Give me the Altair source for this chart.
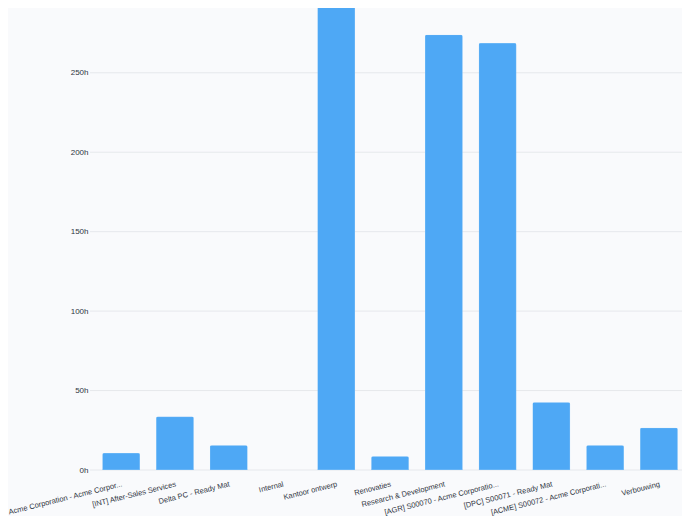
import altair as alt
import pandas as pd

projects = [
    "Acme Corporation - Acme Corpor...",
    "[INT] After-Sales Services",
    "Delta PC - Ready Mat",
    "Internal",
    "Kantoor ontwerp",
    "Renovaties",
    "Research & Development",
    "[AGR] S00070 - Acme Corporatio...",
    "[DPC] S00071 - Ready Mat",
    "[ACME] S00072 - Acme Corporati...",
    "Verbouwing",
]
hours = [10.7, 33.6, 15.5, 0, 320, 8.6, 274, 268.7, 42.6, 15.5, 26.6]
ticks = [0, 50, 100, 150, 200, 250]

df = pd.DataFrame({"project": projects, "hours": hours})
grid_df = pd.DataFrame({"hours": ticks})

font = "Liberation Sans"
yscale = alt.Scale(domain=[0, 295.8], clamp=True, nice=False, zero=True)

grid = (
    alt.Chart(grid_df)
    .mark_rule(color="#e6e8ec", strokeWidth=1)
    .encode(
        y=alt.Y("hours:Q", scale=yscale),
        x=alt.value(-8),
        x2=alt.value(587),
    )
)

bars = (
    alt.Chart(df)
    .mark_bar(color="#4ea8f5", stroke="#8cc6f8",
              cornerRadiusTopLeft=2, cornerRadiusTopRight=2)
    .encode(
        x=alt.X(
            "project:N",
            sort=projects,
            title=None,
            scale=alt.Scale(paddingInner=0.3, paddingOuter=0.08),
            axis=alt.Axis(
                labelAngle=-14,
                labelAlign="right",
                labelBaseline="top",
                labelPadding=10,
                ticks=False,
                tickSize=0,
                domain=False,
                grid=False,
                labelFont=font,
                labelFontSize=7.5,
                labelColor="#2f3542",
                labelLimit=300,
                labelOverlap=False,
            ),
        ),
        y=alt.Y(
            "hours:Q",
            title=None,
            scale=yscale,
            axis=alt.Axis(
                values=ticks,
                labelExpr="datum.value + 'h'",
                ticks=False,
                tickSize=0,
                domain=False,
                grid=False,
                labelPadding=10,
                labelFont=font,
                labelFontSize=8,
                labelColor="#2f3542",
            ),
        ),
        strokeWidth=alt.condition("datum.hours > 0", alt.value(0.8), alt.value(0)),
    )
)

chart = (
    alt.layer(grid, bars)
    .properties(
        width=584,
        height=470,
        padding={"left": 90, "top": -8, "right": 0, "bottom": 46},
        autosize=alt.AutoSizeParams(type="none"),
        background="#f9fafc",
    )
    .configure_view(stroke=None)
)

chart.save("out.html", embed_options={"renderer": "svg", "actions": False})
